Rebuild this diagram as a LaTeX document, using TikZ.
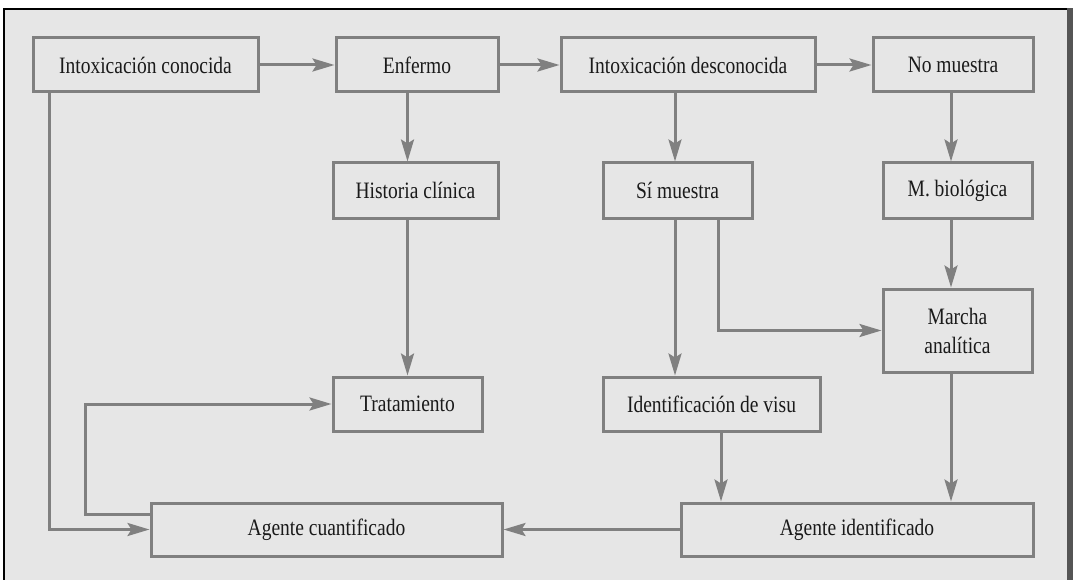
\documentclass[tikz,border=0pt]{standalone}
\usepackage{fontspec}
\setmainfont[FakeStretch=0.83]{Liberation Serif}
\usetikzlibrary{arrows.meta}
\definecolor{bgc}{HTML}{E6E6E6}
\definecolor{linec}{HTML}{808080}
\definecolor{barc}{HTML}{555555}
\definecolor{txtc}{HTML}{1A1A1A}
\tikzset{
  box/.style={draw=linec, line width=3pt, fill=bgc, inner sep=0pt, text=txtc,
    font=\fontsize{23.5pt}{29pt}\selectfont, align=center},
  arr/.style={draw=linec, line width=3pt,
    -{Stealth[length=22pt,width=13pt,inset=4pt]}},
  ln/.style={draw=linec, line width=3pt}
}
\begin{document}
\begin{tikzpicture}[x=1pt,y=-1pt]
\useasboundingbox (0,0) rectangle (1073,580);
% frame
\fill[bgc] (4,9) rectangle (1067,580);
\draw[black, line width=1.5pt] (4,580) -- (4,9) -- (1067,9);
\fill[barc] (1067,8.25) rectangle (1073,580);
% boxes
\node[box, minimum width=225pt, minimum height=54pt] (ic) at (145.5,65) {Intoxicación conocida};
\node[box, minimum width=162pt, minimum height=54pt] (enf) at (417,65) {Enfermo};
\node[box, minimum width=254pt, minimum height=54pt] (id) at (688,65) {Intoxicación desconocida};
\node[box, minimum width=160pt, minimum height=54pt] (nm) at (953,65) {No muestra};
\node[box, minimum width=165pt, minimum height=55pt] (hc) at (415.5,190.5) {Historia clínica};
\node[box, minimum width=149pt, minimum height=55pt] (sm) at (677.5,190.5) {Sí muestra};
\node[box, minimum width=149pt, minimum height=55pt] (mb) at (957.5,190.5) {M. biológica};
\node[box, minimum width=149pt, minimum height=83pt] (ma) at (957.5,330.5) {Marcha\\analítica};
\node[box, minimum width=149pt, minimum height=54pt] (tr) at (407.5,404) {Tratamiento};
\node[box, minimum width=217pt, minimum height=54pt] (iv) at (711.5,404) {Identificación de visu};
\node[box, minimum width=351pt, minimum height=53pt] (ac) at (326.5,529.5) {Agente cuantificado};
\node[box, minimum width=352pt, minimum height=53pt] (ai) at (857,529.5) {Agente identificado};
% helper coordinates
\coordinate (loopx) at (85,0);
\coordinate (icx) at (49,0);
% connectors
\draw[arr] (ic.east) -- (enf.west);
\draw[arr] (enf.east) -- (id.west);
\draw[arr] (id.east) -- (nm.west);
\draw[arr] (enf.south -| tr) -- (hc.north -| tr);
\draw[arr] ([xshift=-2.5pt]sm.south |- id.south) -- ([xshift=-2.5pt]sm.north);
\draw[arr] ([xshift=-6.5pt]mb.north |- nm.south) -- ([xshift=-6.5pt]mb.north);
\draw[arr] (hc.south -| tr) -- (tr.north);
\draw[arr] ([xshift=-2.5pt]sm.south) -- ([xshift=-2.5pt]sm.south |- iv.north);
\draw[arr] ([xshift=40.5pt]sm.south) |- (ma.west);
\draw[arr] ([xshift=-6.5pt]mb.south) -- ([xshift=-6.5pt]ma.north);
\draw[arr] ([xshift=9.5pt]iv.south) -- ([xshift=9.5pt]iv.south |- ai.north);
\draw[arr] ([xshift=-6.5pt]ma.south) -- ([xshift=-6.5pt]ma.south |- ai.north);
\draw[arr] (ai.west) -- (ac.east);
\draw[arr] (icx |- ic.south) -- (icx |- ac.west) -- (ac.west);
\draw[arr] ([yshift=15.5pt]ac.west) -| (loopx |- tr.west) -- (tr.west);
\end{tikzpicture}
\end{document}
